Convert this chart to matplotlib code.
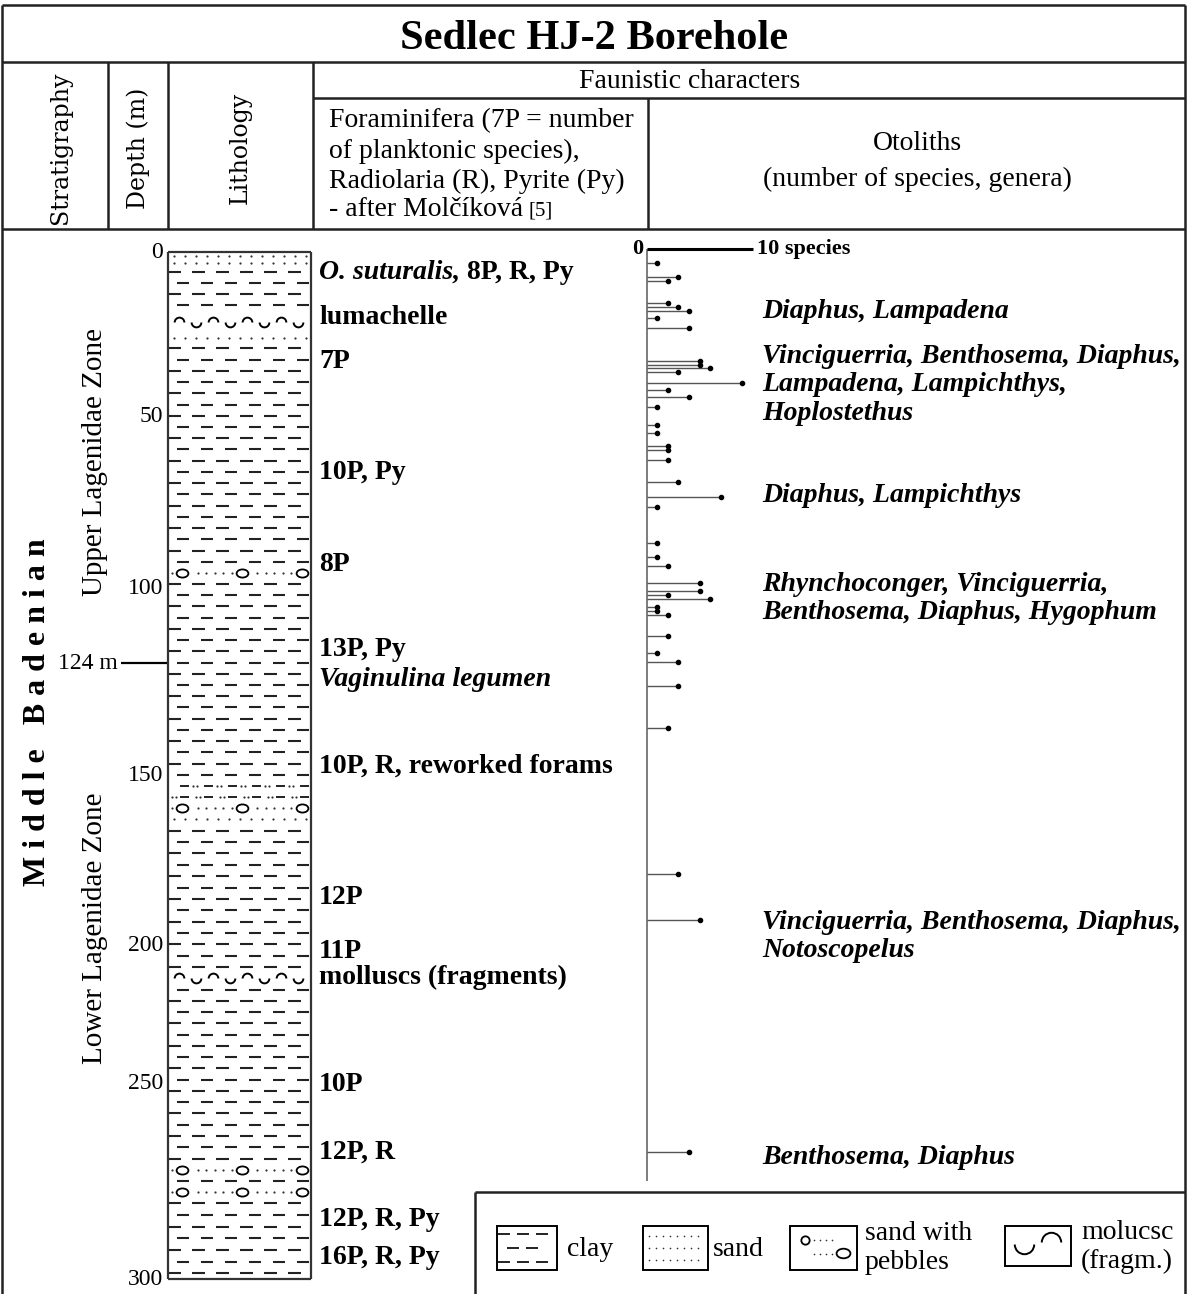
import numpy as np
import matplotlib.pyplot as plt
from matplotlib.path import Path
from matplotlib.transforms import Affine2D
from matplotlib.patches import Rectangle

SERIF = 'Liberation Serif'
WIDE = 'DejaVu Serif'

# depth marks and where they sit on the page (the log is not drawn to scale)
depth_ticks = [0, 50, 100, 150, 200, 250, 300]
scale_depth = [-10, 0, 50, 100, 124, 150, 200, 250, 300, 310]
scale_row = [219.2, 252, 416, 588, 663, 775, 945, 1083, 1279, 1318.2]

# lithology column, top of each layer in m
layer_top = [0, 4.5, 17.7, 24.7, 27.7, 94.0, 97.2, 151.6, 158.1, 161.3,
             164.7, 210.1, 214.1, 270.7, 273.5, 276.3, 279.2]
layer_kind = ['sand', 'clay', 'shells', 'sand', 'clay', 'pebbles', 'clay',
              'sandyclay', 'pebbles', 'sand', 'clay', 'shells', 'clay',
              'pebbles', 'clay', 'pebbles', 'clay']
layer_bot = layer_top[1:] + [300]

# otolith samples: depth (m) and number of species
oto_depth = [3.4, 7.7, 8.8, 15.6, 16.9, 18.1, 20.1, 23.3, 33.1, 34.5, 35.3,
             36.5, 39.8, 42.1, 44.3, 47.2, 52.6, 55.0, 58.7, 59.9, 62.8, 69.3,
             73.6, 76.4, 87.0, 90.9, 93.5, 98.6, 101.1, 102.2, 103.4, 106.0,
             107.5, 108.6, 115.4, 120.9, 123.6, 129.3, 139.2, 179.2, 192.6, 267.5]
oto_species = [1, 3, 2, 2, 3, 4, 1, 4, 5, 5, 6,
               3, 9, 2, 4, 1, 1, 1, 2, 2, 2, 3,
               7, 1, 1, 1, 2, 5, 5, 2, 6, 1,
               1, 2, 2, 1, 3, 3, 2, 3, 5, 4]

# foraminifera notes
fora_depth = [6.1, 20.1, 33.5, 66.3, 93.3, 119.8, 127.9, 147.9, 185.9, 202.5,
              211.9, 250.5, 267.6, 284.7, 294.4]
fora_italic = ['O. suturalis,', '', '', '', '', '', 'Vaginulina legumen', '',
               '', '', '', '', '', '', '']
fora_plain = ['8P, R, Py', 'lumachelle', '7P', '10P, Py', '8P', '13P, Py', '',
              '10P, R, reworked forams', '12P', '11P', 'molluscs (fragments)',
              '10P', '12P, R', '12P, R, Py', '16P, R, Py']

# otolith genera
genera_depth = [18.0, 40.5, 73.0, 103.4, 197.6, 269.1]
genera_text = ['Diaphus, Lampadena',
               'Vinciguerria, Benthosema, Diaphus,\nLampadena, Lampichthys,\nHoplostethus',
               'Diaphus, Lampichthys',
               'Rhynchoconger, Vinciguerria,\nBenthosema, Diaphus, Hygophum',
               'Vinciguerria, Benthosema, Diaphus,\nNotoscopelus',
               'Benthosema, Diaphus']


def fwd(d):
    return np.interp(d, scale_depth, scale_row)


def inv(r):
    return np.interp(r, scale_row, scale_depth)


W, H = 1187, 1294
fig = plt.figure(figsize=(W / 100, H / 100), dpi=100)

# page frame in pixel units
ax0 = fig.add_axes([0, 0, 1, 1])
ax0.set_xlim(0, W)
ax0.set_ylim(H, 0)
ax0.axis('off')

lc = '#222222'
lw = 1.8
ax0.vlines([2, 1185], 5, H, color=lc, lw=lw)
ax0.hlines([5, 62, 229], 2, 1185, color=lc, lw=lw)
ax0.hlines(98, 313, 1185, color=lc, lw=lw)
ax0.vlines([108, 168, 313], 62, 229, color=lc, lw=lw)
ax0.vlines(648, 98, 229, color=lc, lw=lw)

ax0.text(594, 39, 'Sedlec HJ-2 Borehole', fontsize=30.5, weight='bold',
         family=SERIF, ha='center', va='center')
ax0.text(690, 81, 'Faunistic characters', fontsize=20, family=SERIF,
         ha='center', va='center')
for txt, yy in zip(['Foraminifera (7P = number', 'of planktonic species),',
                    'Radiolaria (R), Pyrite (Py)'], [121, 151, 181]):
    ax0.text(329, yy, txt, fontsize=20, family=SERIF, va='center')
t = ax0.text(329, 210, '- after Molčíková', fontsize=20, family=SERIF, va='center')
ax0.annotate('[5]', xy=(1, 0.45), xycoords=t, xytext=(4, 0),
             textcoords='offset points', fontsize=15, family=SERIF, va='center')
ax0.text(917, 143, 'Otoliths', fontsize=20, family=SERIF, ha='center', va='center')
ax0.text(917, 179, '(number of species, genera)', fontsize=20, family=SERIF,
         ha='center', va='center')
for txt, xx in zip(['Stratigraphy', 'Depth (m)', 'Lithology'], [60, 138, 240]):
    ax0.text(xx, 148, txt, fontsize=17, family=WIDE, rotation=90,
             ha='center', va='center')

ax0.text(38, 712, 'M i d d l e   B a d e n i a n', fontsize=23, weight='bold',
         family=SERIF, rotation=90, ha='center', va='center')
ax0.text(95, 462, 'Upper Lagenidae Zone', fontsize=21, family=SERIF,
         rotation=90, ha='center', va='center')
ax0.text(95, 928, 'Lower Lagenidae Zone', fontsize=21, family=SERIF,
         rotation=90, ha='center', va='center')

# legend
ax0.hlines(1192, 475, 1185, color=lc, lw=lw)
ax0.vlines(475, 1192, H, color=lc, lw=lw)
for x0, w, h in [(497, 60, 44), (643, 65, 44), (790, 67, 44), (1005, 66, 40)]:
    ax0.add_patch(Rectangle((x0, 1226), w, h, fill=False, ec='k', lw=1.4))
for yy, xs in [(1234, [498, 517, 536]), (1248, [507, 526]), (1262, [498, 517, 536])]:
    xs = np.array(xs)
    ax0.hlines(np.full(len(xs), yy), xs, xs + 12, color='#222', lw=1.4)
for yy in [1236, 1248, 1260]:
    xs = np.arange(649, 705, 7)
    ax0.plot(xs, np.full(len(xs), yy), 'o', ms=1.2, color='#333', mec='none')
for yy in [1240, 1254]:
    xs = np.arange(814, 835, 6)
    ax0.plot(xs, np.full(len(xs), yy), 'o', ms=1.2, color='#333', mec='none')

ell = Path.unit_circle().transformed(Affine2D().scale(1.45, 1))
cap = Path.arc(0, 180)
cup = Path.arc(180, 360)
ax0.plot([805], [1240], marker='o', ms=6, mfc='white', mec='k', mew=1.3)
ax0.plot([843], [1253], marker=ell, ms=10, mfc='white', mec='k', mew=1.3)
ax0.plot([1024], [1244], marker=cup, ms=14, mfc='none', mec='k', mew=1.4)
ax0.plot([1051], [1242], marker=cap, ms=14, mfc='none', mec='k', mew=1.4)
ax0.text(567, 1249, 'clay', fontsize=20, family=SERIF, va='center')
ax0.text(713, 1249, 'sand', fontsize=20, family=SERIF, va='center')
ax0.text(865, 1248, 'sand with\npebbles', fontsize=20, family=SERIF,
         va='center', linespacing=1.2)
ax0.text(1081, 1247, 'molucsc\n(fragm.)', fontsize=20, family=SERIF,
         va='center', linespacing=1.2)

# log body in depth units
rect = [0, 0, 1, (H - 229) / H]
ax = fig.add_axes(rect)
ax.set_xlim(0, W)
ax.set_yscale('function', functions=(fwd, inv))
ax.set_ylim(inv(H), inv(229))
ax.axis('off')

for d in depth_ticks:
    ax.text(163, d, str(d), fontsize=17, family=SERIF, ha='right', va='center')
ax.text(118, 124, '124 m', fontsize=17, family=SERIF, ha='right', va='center')
ax.hlines(124, 121, 168, color='k', lw=1.6)

# lithology patterns
pitch = 11.22
dash_a = 168 + 24 * np.arange(6)
dash_b = 176.5 + 24 * np.arange(6)
flip = 0
for top, bot, kind in zip(layer_top, layer_bot, layer_kind):
    r0, r1 = fwd(top), fwd(bot)
    h = r1 - r0
    if kind in ('clay', 'sandyclay'):
        n = max(1, round(h / pitch))
    elif kind == 'sand':
        n = max(1, int(h / 7.2))
    else:
        n = 1
    rows = inv(r0 + (np.arange(n) + 0.5) * h / n)
    for y in rows:
        if kind == 'clay':
            xs = dash_a if flip % 2 == 0 else dash_b
            flip += 1
            ax.hlines(np.full(len(xs), y), xs, np.minimum(xs + 12.5, 310),
                      color='#222', lw=1.5)
        elif kind == 'sand':
            xs = np.arange(174, 308, 11)
            ax.plot(xs, np.full(len(xs), y), 'o', ms=1.6, color='#333', mec='none')
        elif kind == 'sandyclay':
            xs = 180 + 24 * np.arange(6)
            ax.hlines(np.full(len(xs), y), xs, np.minimum(xs + 9, 310),
                      color='#222', lw=1.4)
            dx = np.concatenate([xs - 8, xs - 4]) if flip % 2 else np.concatenate([xs + 13, xs + 17])
            dx = dx[(dx > 170) & (dx < 309)]
            ax.plot(dx, np.full(len(dx), y), 'o', ms=1.6, color='#333', mec='none')
            flip += 1
        elif kind == 'pebbles':
            peb = np.array([182, 242, 302])
            xs = np.arange(172, 310, 8.5)
            xs = xs[np.min(np.abs(xs[:, None] - peb[None, :]), axis=1) > 9]
            ax.plot(xs, np.full(len(xs), y), 'o', ms=1.6, color='#333', mec='none')
            ax.plot(peb, np.full(len(peb), y), ls='none', marker=ell, ms=8.5,
                    mfc='white', mec='k', mew=1.3)
        elif kind == 'shells':
            xs = np.arange(179, 306, 17)
            ax.plot(xs[::2], np.full(len(xs[::2]), y), ls='none', marker=cap,
                    ms=7, mfc='none', mec='k', mew=1.4)
            ax.plot(xs[1::2], np.full(len(xs[1::2]), y), ls='none', marker=cup,
                    ms=7, mfc='none', mec='k', mew=1.4)

ax.vlines([168, 311], 0, 300, color='#333', lw=1.6)
ax.hlines([0, 300], 168, 311, color='#333', lw=1.6)

for d, it, pl in zip(fora_depth, fora_italic, fora_plain):
    if it:
        t = ax.text(319, d, it, fontsize=20, family=SERIF, weight='bold',
                    style='italic', va='center')
        if pl:
            ax.annotate(pl, xy=(1, 0.5), xycoords=t, xytext=(5, 0),
                        textcoords='offset points', fontsize=20, family=SERIF,
                        weight='bold', va='center')
    else:
        ax.text(319, d, pl, fontsize=20, family=SERIF, weight='bold', va='center')

for d, txt in zip(genera_depth, genera_text):
    ax.text(762, d, txt, fontsize=20, family=SERIF, weight='bold',
            style='italic', va='center', linespacing=1.17)

# otolith stems, x in number of species
ax_o = fig.add_axes(rect, sharey=ax)
ax_o.set_xlim(-646.5 / 10.6, (W - 646.5) / 10.6)
ax_o.axis('off')
ax_o.vlines(0, -1, 275, color='#666', lw=1.2)
ax_o.hlines(oto_depth, 0, oto_species, color='#555', lw=1.0)
ax_o.plot(oto_species, oto_depth, 'o', ms=3, color='k', ls='none')
ax_o.hlines(-1, 0, 10, color='k', lw=2.2)
ax_o.text(-0.3, -1, '0', fontsize=16, family=SERIF, weight='bold',
          ha='right', va='center')
ax_o.text(10.4, -1, '10 species', fontsize=16, family=SERIF, weight='bold',
          ha='left', va='center')

fig.savefig('out.png', dpi=100)
